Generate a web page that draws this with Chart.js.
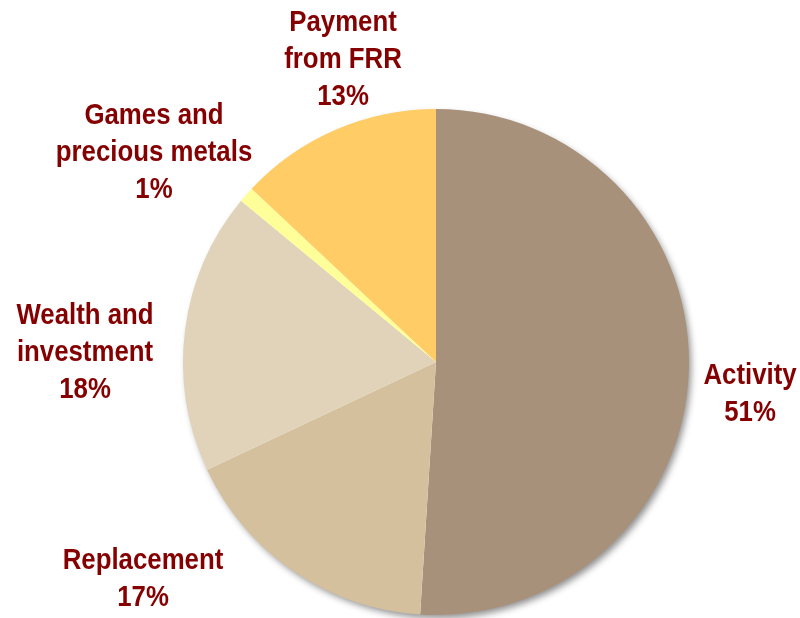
<!DOCTYPE html>
<html>
<head>
<meta charset="utf-8">
<script src="https://cdn.jsdelivr.net/npm/chart.js@4/dist/chart.umd.min.js"></script>
<style>
  html, body { margin: 0; padding: 0; background: #ffffff; }
  #wrap { width: 800px; height: 618px; position: relative; }
</style>
</head>
<body>
<div id="wrap"><canvas id="pie"></canvas></div>
<script>
// Revenue sources, share of total (%), clockwise from 12 o'clock
const categories = ['Activity', 'Replacement', 'Wealth and investment', 'Games and precious metals', 'Payment from FRR'];
const shares = [51, 17, 18, 1, 13];
const labelLines = [
  ['Activity'],
  ['Replacement'],
  ['Wealth and', 'investment'],
  ['Games and', 'precious metals'],
  ['Payment', 'from FRR']
];
const sliceColors = ['#A8917A', '#D5C09E', '#E0D3BA', '#FFFF99', '#FFCC66'];

// Label anchor (centre of the text block) relative to the pie centre, in pixels
const labelAnchors = [
  { dx: 314, dy: 32 },
  { dx: -293, dy: 217 },
  { dx: -351, dy: -9 },
  { dx: -282, dy: -209 },
  { dx: -93, dy: -302 }
];

const TEXT_COLOR = '#850000';
const FONT = 'bold 30px "Liberation Sans", Arial, sans-serif';
const TEXT_SQUEEZE = 0.86;   // condensed look for the labels
const LINE_H = 37;

const pieShadow = {
  id: 'pieShadow',
  beforeDatasetsDraw(chart) {
    const arc = chart.getDatasetMeta(0).data[0];
    if (!arc) return;
    const ctx = chart.ctx;
    ctx.save();
    ctx.shadowColor = 'rgba(0,0,0,0.45)';
    ctx.shadowBlur = 7;
    ctx.shadowOffsetX = 3;
    ctx.shadowOffsetY = 4;
    ctx.fillStyle = '#ffffff';
    ctx.beginPath();
    ctx.arc(arc.x, arc.y, arc.outerRadius - 1, 0, Math.PI * 2);
    ctx.fill();
    ctx.restore();
  }
};

const outsideLabels = {
  id: 'outsideLabels',
  afterDatasetsDraw(chart) {
    const meta = chart.getDatasetMeta(0);
    const ctx = chart.ctx;
    meta.data.forEach((arc, i) => {
      const lines = labelLines[i].concat([shares[i] + '%']);
      const cx = arc.x + labelAnchors[i].dx;
      const cy = arc.y + labelAnchors[i].dy;
      const top = cy - (lines.length - 1) * LINE_H / 2;
      ctx.save();
      ctx.translate(cx, 0);
      ctx.scale(TEXT_SQUEEZE, 1);
      ctx.fillStyle = TEXT_COLOR;
      ctx.font = FONT;
      ctx.textAlign = 'center';
      ctx.textBaseline = 'middle';
      lines.forEach((t, k) => ctx.fillText(t, 0, top + k * LINE_H));
      ctx.restore();
    });
  }
};

new Chart(document.getElementById('pie'), {
  type: 'pie',
  data: {
    labels: categories,
    datasets: [{
      data: shares,
      backgroundColor: sliceColors,
      borderWidth: 0
    }]
  },
  options: {
    responsive: true,
    maintainAspectRatio: false,
    animation: false,
    layout: { padding: { top: 109, bottom: 3, left: 183, right: 111 } },
    plugins: {
      legend: { display: false },
      tooltip: { enabled: false }
    }
  },
  plugins: [pieShadow, outsideLabels]
});
</script>
</body>
</html>
